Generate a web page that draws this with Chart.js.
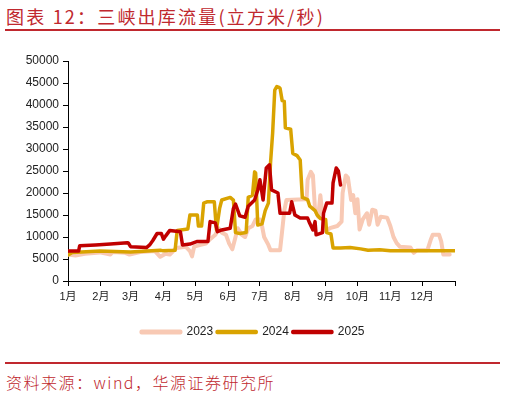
<!DOCTYPE html>
<html lang="zh">
<head>
    <meta charset="UTF-8">
    <title>三峡出库流量</title>
    <script src="https://cdn.jsdelivr.net/npm/chart.js@4.4.0/dist/chart.umd.min.js"></script>
    <style>
        body { margin: 0; background: #fff; }
        .page { position: relative; width: 506px; height: 396px; overflow: hidden; }
        .title {
            position: absolute; left: 6px; top: 3px;
            font-family: 'Noto Sans CJK SC', sans-serif; font-size: 18px; font-weight: 400;
            color: #c0282e; letter-spacing: 2.2px; white-space: nowrap;
        }
        .rule { position: absolute; left: 5px; width: 495px; background: #c0282e; }
        .source {
            position: absolute; left: 6px; top: 370px;
            font-family: 'Noto Sans CJK SC', sans-serif; font-size: 16px; font-weight: 300;
            color: #c0282e; letter-spacing: 1.5px; white-space: nowrap;
        }
        #flowChart { position: absolute; left: 0; top: 40px; }
    </style>
</head>
<body>
<div class="page">
    <div class="title">图表 12：三峡出库流量(立方米/秒)</div>
    <div class="rule" style="top:29px;height:2px;"></div>
    <canvas id="flowChart" width="506" height="310"></canvas>
    <div class="rule" style="top:362px;height:1.5px;"></div>
    <div class="source">资料来源：wind，华源证券研究所</div>
</div>

<script>
    // x = day of year (0 = 1月1日), y = 立方米/秒
    const monthTicks = [0, 31, 59, 90, 120, 151, 181, 212, 243, 273, 304, 334, 365];
    const monthLabels = ['1月', '2月', '3月', '4月', '5月', '6月', '7月', '8月', '9月', '10月', '11月', '12月'];

    const days2023 = [0, 7, 16, 30, 40, 42, 54, 58, 68, 82, 87, 92, 96, 102, 111, 115, 117, 119, 125, 130, 134, 139, 142, 145, 149, 152, 155, 158, 160, 164, 167, 170, 174, 177, 181, 183, 185, 189, 191, 200, 202, 204, 206, 217, 225, 226, 229, 231, 233, 236, 238, 240, 243, 247, 254, 258, 259, 262, 264, 267, 269, 271, 273, 275, 278, 282, 284, 287, 290, 292, 295, 301, 304, 307, 310, 313, 323, 326, 329, 339, 342, 344, 350, 352, 354, 360];
    const flow2023 = [6000, 5800, 6200, 6500, 6000, 6600, 6400, 6000, 6600, 6800, 5500, 6200, 6000, 7500, 7800, 6800, 5600, 7800, 8200, 8500, 9500, 10500, 12000, 11000, 10500, 8500, 7200, 10000, 12000, 10500, 10000, 12000, 12500, 14000, 14000, 12500, 10000, 8200, 7000, 7000, 11400, 16000, 18400, 18500, 18600, 23000, 24800, 24000, 16200, 14600, 19500, 15000, 11400, 12000, 12500, 13500, 20000, 24000, 23500, 18400, 19500, 15400, 18600, 11700, 14000, 15400, 12800, 16200, 16000, 12800, 14600, 14400, 12500, 10000, 8600, 7800, 7600, 6400, 7000, 7000, 9300, 10500, 10500, 9000, 6000, 6000];

    const days2024 = [0, 4, 30, 59, 87, 89, 101, 103, 113, 115, 122, 123, 126, 128, 131, 138, 140, 143, 145, 153, 156, 158, 162, 168, 170, 174, 176, 177, 179, 183, 186, 189, 191, 193, 195, 197, 199, 200, 202, 204, 205, 210, 212, 216, 219, 221, 226, 228, 233, 235, 238, 243, 244, 248, 250, 257, 266, 276, 283, 294, 304, 332, 366];
    const flow2024 = [5900, 6500, 6800, 6600, 7000, 6900, 7000, 11500, 11800, 15000, 15000, 12500, 12500, 17700, 18000, 18000, 11600, 16500, 18400, 19000, 18400, 11000, 10800, 11000, 19000, 19500, 24800, 24500, 12700, 13000, 16000, 17700, 26800, 33600, 43400, 44200, 44000, 43800, 41000, 40800, 34800, 34500, 29000, 28500, 27500, 19000, 18500, 17000, 16000, 15000, 14200, 14000, 11000, 10700, 7500, 7500, 7600, 7300, 7000, 7100, 6900, 6900, 6900];

    const days2025 = [0, 10, 11, 26, 40, 56, 57, 59, 74, 77, 80, 84, 88, 90, 92, 96, 106, 108, 115, 122, 132, 134, 139, 141, 145, 153, 156, 158, 162, 167, 170, 176, 179, 181, 184, 187, 190, 192, 198, 200, 209, 211, 214, 219, 226, 228, 231, 233, 234, 240, 241, 244, 249, 250, 253, 255, 257];
    const flow2025 = [6800, 6800, 8000, 8200, 8400, 8700, 8600, 7800, 7600, 8200, 9200, 10800, 10800, 9500, 10200, 11500, 11200, 8200, 8400, 9000, 9000, 13500, 13200, 11200, 11600, 12000, 16500, 17500, 14800, 14500, 17000, 18400, 20700, 23000, 18400, 25700, 26400, 20700, 20000, 15400, 15400, 18000, 15000, 14300, 14300, 13100, 11600, 13500, 10500, 11000, 15400, 17700, 17700, 22300, 25700, 25000, 21800];

    const colors = { y2023: '#f8c9b4', y2024: '#d9a300', y2025: '#c00000' };

    function toPoints(days, values) {
        return days.map((d, i) => ({ x: d, y: values[i] }));
    }

    const axisFont = { family: "'Liberation Sans', 'Noto Sans CJK SC', sans-serif", size: 11 };

    const ctx = document.getElementById('flowChart').getContext('2d');
    const flowChart = new Chart(ctx, {
        type: 'line',
        data: {
            datasets: [
                {
                    label: '2023', data: toPoints(days2023, flow2023), order: 3,
                    borderColor: colors.y2023, backgroundColor: colors.y2023, borderWidth: 4
                },
                {
                    label: '2024', data: toPoints(days2024, flow2024), order: 2,
                    borderColor: colors.y2024, backgroundColor: colors.y2024, borderWidth: 3.5
                },
                {
                    label: '2025', data: toPoints(days2025, flow2025), order: 1,
                    borderColor: colors.y2025, backgroundColor: colors.y2025, borderWidth: 3.5
                }
            ]
        },
        options: {
            responsive: false,
            animation: false,
            elements: {
                point: { radius: 0 },
                line: { tension: 0, borderJoinStyle: 'round', borderCapStyle: 'round', fill: false }
            },
            layout: { padding: { left: 0, right: 0, top: 21, bottom: 2 } },
            plugins: {
                tooltip: { enabled: false },
                legend: {
                    position: 'bottom',
                    labels: {
                        boxWidth: 39, boxHeight: 1, padding: 4,
                        color: '#222',
                        font: { family: "'Liberation Sans', sans-serif", size: 12 },
                        sort: (a, b) => a.datasetIndex - b.datasetIndex
                    }
                }
            },
            scales: {
                x: {
                    type: 'linear', min: 0, max: 365,
                    afterBuildTicks: (scale) => { scale.ticks = monthTicks.map(v => ({ value: v })); },
                    afterFit: (scale) => { scale.height = 41; },
                    ticks: {
                        autoSkip: false, maxRotation: 0, padding: 4, color: '#222', font: axisFont,
                        callback: (v) => monthLabels[monthTicks.indexOf(v)] || ''
                    },
                    grid: { drawOnChartArea: false, tickLength: 5, color: '#000' },
                    border: { color: '#000', width: 1 }
                },
                y: {
                    min: 0, max: 50000,
                    afterFit: (scale) => { scale.width = 68; },
                    ticks: {
                        stepSize: 5000, padding: 4, color: '#222', font: { ...axisFont, size: 12 },
                        callback: (v) => String(v)
                    },
                    grid: { drawOnChartArea: false, tickLength: 5, color: '#000' },
                    border: { color: '#000', width: 1 }
                },
                // empty right gutter so the legend centres like the original
                yRight: {
                    position: 'right', display: true,
                    afterFit: (scale) => { scale.width = 51; },
                    ticks: { display: false },
                    grid: { display: false },
                    border: { display: false }
                }
            }
        }
    });
</script>
</body>
</html>
